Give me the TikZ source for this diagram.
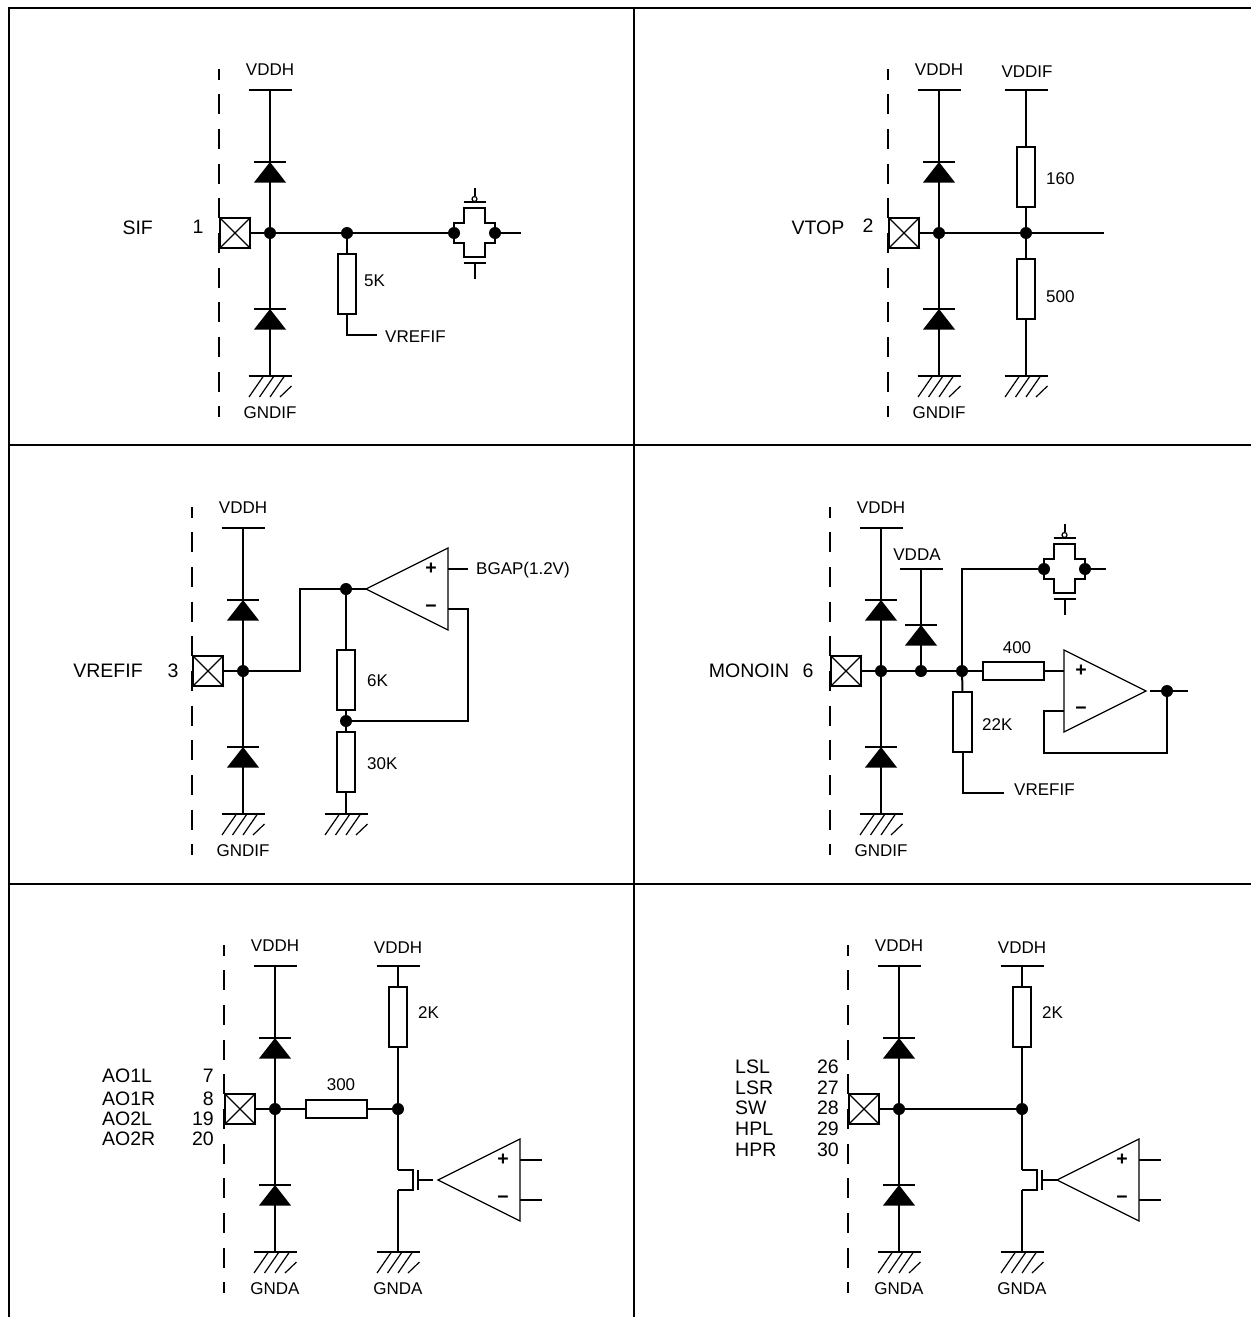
\documentclass[tikz,border=0pt]{standalone}
\usepackage{fontspec}
\setmainfont{Liberation Sans}
\usetikzlibrary{positioning}

\begin{document}
\begin{tikzpicture}[
  x=1pt, y=-1pt,
  wire/.style={line width=2pt},
  hair/.style={line width=1.2pt},
  dot/.style={circle, fill=black, inner sep=0pt, minimum size=12pt},
  res/.style={draw, wire, fill=white, inner sep=0pt, minimum width=18.5pt, minimum height=60.5pt},
  hres/.style={draw, wire, fill=white, inner sep=0pt, minimum width=60.5pt, minimum height=18.5pt},
  padbox/.style={draw, wire, inner sep=0pt, minimum size=29.5pt},
  lab/.style={inner sep=0pt, yshift=-0.7pt, font=\fontsize{17}{20}\selectfont},
  biglab/.style={inner sep=0pt, yshift=-0.7pt, font=\fontsize{19.5}{22}\selectfont},
  sign/.style={inner sep=0pt, font=\bfseries\fontsize{19.5}{22}\selectfont},
  pics/rail/.style={code={\draw[wire] (-21.5,0) -- (21.5,0);}},
  pics/gnd/.style={code={
    \draw[wire] (-21.5,0) -- (21.5,0);
    \foreach \s in {-21,-10.5,0} \draw[hair] (\s,21) -- ++(14.5,-21);
    \draw[hair] (10,21) -- (21.5,10);
  }},
  pics/diode/.style={code={
    \draw[wire] (-16,0) -- (16,0);
    \fill (0,0) -- (16,20.5) -- (-16,20.5) -- cycle;
  }},
  pics/clamp/.style 2 args={code={
    \draw[wire, dash pattern=on 20pt off 14.67pt, dash phase=9.3pt] (-51,-164) -- (-51,184);
    \node[lab] (-vdd) at (0,-164) {#1};
    \node[lab] (-gnd) at (0,179) {#2};
    \coordinate (-top) at (0,-143);
    \coordinate (-bot) at (0,143);
    \node[dot] (-j) at (0,0) {};
    \node[padbox] (-pad) at (-35,0) {};
    \draw[hair] (-pad.north west) -- (-pad.south east) (-pad.north east) -- (-pad.south west);
    \draw[wire] (-top) -- (-j) -- (-bot) (-j) -- (-pad);
    \pic at (0,-143) {rail};
    \pic at (0,143) {gnd};
    \pic at (0,-71) {diode};
    \pic at (0,76) {diode};
  }},
  pics/tgate/.style={code={
    \draw[wire] (-20.5,-10) -- (-10.3,-10) -- (-10.3,-25) -- (10.3,-25) -- (10.3,-10) -- (20.5,-10)
      -- (20.5,10) -- (10.3,10) -- (10.3,24) -- (-10.3,24) -- (-10.3,10) -- (-20.5,10) -- cycle;
    \node[dot] (-l) at (-20.5,0) {};
    \node[dot] (-r) at (20.5,0) {};
    \draw[wire] (-11,-31) -- (11,-31) (-11,30) -- (11,30) (0,30) -- (0,46) (0,-37) -- (0,-45);
    \draw[hair, fill=white] (0,-34) circle (2.5);
  }},
  pics/opamp/.style={code={
    \draw[hair] (0,0) -- (82,-41) -- (82,41) -- cycle;
    \node[sign] (-plus) at (65,-20) {+};
    \node[sign] (-minus) at (65,20) {−};
    \coordinate (-o) at (0,0);
    \coordinate (-p) at (82,-20);
    \coordinate (-m) at (82,20);
  }},
  pics/mos/.style={code={
    \draw[wire] (0,-10) -- (15,-10) -- (15,10) -- (0,10);
    \draw[wire] (20,-10) -- (20,10) (20,0) -- (35,0);
    \coordinate (-d) at (0,-10);
    \coordinate (-s) at (0,10);
  }}
]
\useasboundingbox (0,0) rectangle (1251,1317);

% frame
\coordinate (fa) at (9,1317);
\coordinate (fb) at (9,7.5);
\coordinate (fc) at (1251,7.5);
\coordinate (fd) at (634,7.5);
\coordinate (fe) at (634,1317);
\draw[wire] (fa) -- (fb) -- (fc) (fd) -- (fe);
\coordinate (ha) at (9,445);
\coordinate (hb) at (1251,445);
\coordinate (hc) at (9,884);
\coordinate (hd) at (1251,884);
\draw[wire] (ha) -- (hb) (hc) -- (hd);

% SIF
\node[biglab] (t1) at (137.7,227.5) {SIF};
\node[biglab] (n1) at (198,226.5) {1};
\pic (a) at (270,233) {clamp={VDDH}{GNDIF}};
\node[dot] (a1) at (347,233) {};
\node[res] (r5k) at (347,284) {};
\node[lab, anchor=west] (l5k) at (364,280) {5K};
\pic (tg1) at (474.5,233) {tgate};
\coordinate (a2) at (521,233);
\coordinate (a3) at (377,335);
\node[lab, anchor=west] (vr1) at (385,336) {VREFIF};
\draw[wire] (a-j) -- (a1) -- (tg1-l) (tg1-r) -- (a2);
\draw[wire] (a1) -- (r5k.north);
\draw[wire] (r5k.south) |- (a3);

% VTOP
\node[biglab] (t2) at (818,227.5) {VTOP};
\node[biglab] (n2) at (868,224.5) {2};
\pic (b) at (939,233) {clamp={VDDH}{GNDIF}};
\node[lab] (vif) at (1027,71) {VDDIF};
\coordinate (b1) at (1026,90);
\coordinate (b2) at (1026,376);
\coordinate (b3) at (1104,233);
\pic at (b1) {rail};
\pic at (b2) {gnd};
\node[dot] (b0) at (1026,233) {};
\node[res] (r160) at (1026,177) {};
\node[res] (r500) at (1026,289) {};
\node[lab, anchor=west] (l160) at (1046,178) {160};
\node[lab, anchor=west] (l500) at (1046,296) {500};
\draw[wire] (b-j) -- (b0) -- (b3);
\draw[wire] (b1) -- (r160.north) (r160.south) -- (b0) -- (r500.north) (r500.south) -- (b2);

% VREFIF
\node[biglab] (t3) at (108,670) {VREFIF};
\node[biglab] (n3) at (173,670) {3};
\pic (c) at (243,671) {clamp={VDDH}{GNDIF}};
\pic (op1) at (366,589) {opamp};
\node[dot] (c1) at (346,589) {};
\node[dot] (c2) at (346,721) {};
\node[res] (r6k) at (346,680) {};
\node[res] (r30k) at (346,762) {};
\coordinate (c3) at (346,814);
\coordinate (c4) at (468,569);
\pic at (c3) {gnd};
\node[lab, anchor=west] (l6k) at (367,680) {6K};
\node[lab, anchor=west] (l30k) at (367,763) {30K};
\node[lab, anchor=west] (bg) at (476,569) {BGAP(1.2V)};
\draw[wire] (c-j) -- ++(57,0) |- (op1-o);
\draw[wire] (c1) -- (r6k.north) (r6k.south) -- (c2) -- (r30k.north) (r30k.south) -- (c3);
\draw[wire] (c2) -- ++(122,0) |- (op1-m);
\draw[wire] (op1-p) -- (c4);

% MONOIN
\node[biglab] (t4) at (749,670) {MONOIN};
\node[biglab] (n4) at (808,670) {6};
\pic (d) at (881,671) {clamp={VDDH}{GNDIF}};
\node[lab] (vda) at (917,554) {VDDA};
\coordinate (d0) at (921,569);
\pic at (d0) {rail};
\pic at (921,625) {diode};
\node[dot] (d1) at (921,671) {};
\node[dot] (d2) at (962,671) {};
\pic (tg2) at (1064.5,569) {tgate};
\coordinate (d4) at (1106,569);
\node[hres] (r400) at (1013.5,671) {};
\node[lab] (l400) at (1017,647) {400};
\node[res] (r22k) at (962.5,722) {};
\node[lab, anchor=west] (l22k) at (982,724) {22K};
\pic[xscale=-1] (op2) at (1146,691) {opamp};
\coordinate (d5) at (1150,691);
\node[dot] (d6) at (1167,691) {};
\coordinate (d7) at (1188,691);
\coordinate (d8) at (1004,793);
\node[lab, anchor=west] (vr2) at (1014,789) {VREFIF};
\draw[wire] (d0) -- (d1);
\draw[wire] (d-j) -- (d1) -- (d2) -- (r400.west) (r400.east) -- (op2-p);
\draw[wire] (d2) |- (tg2-l) (tg2-r) -- (d4);
\draw[wire] (d2) -- (r22k.north);
\draw[wire] (r22k.south) |- (d8);
\draw[wire] (d5) -- (d6) -- (d7);
\draw[wire] (d6) -- ++(0,62) -- ++(-123,0) |- (op2-m);

% AO1L..AO2R
\foreach \t/\v/\y in {AO1L/7/1075,AO1R/8/1098,AO2L/19/1118,AO2R/20/1138}{
  \node[biglab, anchor=west] (t\t) at (102,\y) {\t};
  \node[biglab, anchor=east] (n\v) at (214,\y) {\v};
}
\pic (e) at (275,1109) {clamp={VDDH}{GNDA}};
\node[hres] (r300) at (336.5,1109) {};
\node[lab] (l300) at (341,1084) {300};
\node[dot] (e1) at (398,1109) {};
\coordinate (e2) at (398,966);
\coordinate (e3) at (398,1252);
\pic at (e2) {rail};
\pic at (e3) {gnd};
\node[lab] (ev) at (398,947) {VDDH};
\node[lab] (eg) at (398,1288) {GNDA};
\node[res] (re2k) at (398,1017) {};
\node[lab, anchor=west] (le2k) at (418,1012) {2K};
\pic (m1) at (398,1180) {mos};
\pic (op3) at (438,1180) {opamp};
\coordinate (e4) at (542,1160);
\coordinate (e5) at (542,1200);
\draw[wire] (e-j) -- (r300.west) (r300.east) -- (e1);
\draw[wire] (e2) -- (re2k.north) (re2k.south) -- (e1) -- (m1-d) (m1-s) -- (e3);
\draw[wire] (op3-p) -- (e4) (op3-m) -- (e5);

% LSL..HPR
\foreach \t/\v/\y in {LSL/26/1066,LSR/27/1087,SW/28/1107,HPL/29/1128,HPR/30/1149}{
  \node[biglab, anchor=west] (t\t) at (735,\y) {\t};
  \node[biglab, anchor=east] (n\v) at (839,\y) {\v};
}
\pic (f) at (899,1109) {clamp={VDDH}{GNDA}};
\node[dot] (f1) at (1022,1109) {};
\coordinate (f2) at (1022,966);
\coordinate (f3) at (1022,1252);
\pic at (f2) {rail};
\pic at (f3) {gnd};
\node[lab] (fv) at (1022,947) {VDDH};
\node[lab] (fg) at (1022,1288) {GNDA};
\node[res] (rf2k) at (1022,1017) {};
\node[lab, anchor=west] (lf2k) at (1042,1012) {2K};
\pic (m2) at (1022,1180) {mos};
\pic (op4) at (1057,1180) {opamp};
\coordinate (f4) at (1161,1160);
\coordinate (f5) at (1161,1200);
\draw[wire] (f-j) -- (f1);
\draw[wire] (f2) -- (rf2k.north) (rf2k.south) -- (f1) -- (m2-d) (m2-s) -- (f3);
\draw[wire] (op4-p) -- (f4) (op4-m) -- (f5);

\end{tikzpicture}
\end{document}
